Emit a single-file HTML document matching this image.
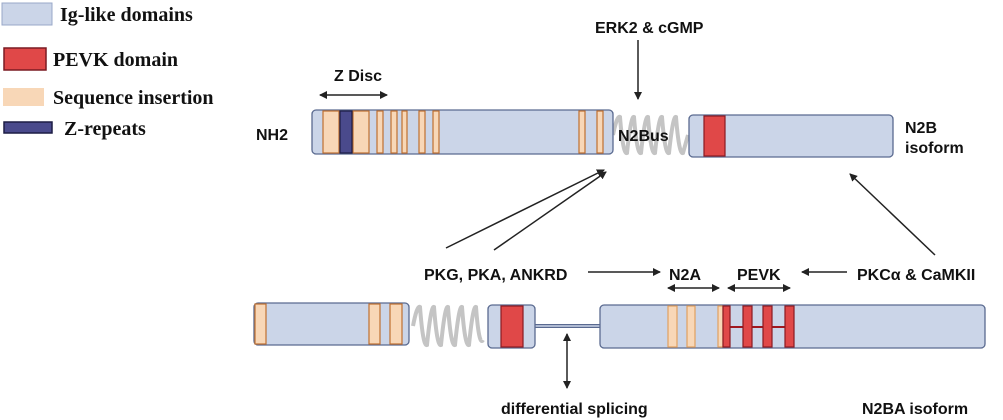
<!DOCTYPE html>
<html><head><meta charset="utf-8"><style>
html,body{margin:0;padding:0;background:#fff;width:1003px;height:420px;overflow:hidden}
svg{display:block}
.s{font-family:"Liberation Sans",sans-serif;font-weight:bold;font-size:16px;fill:#111}
.t{font-family:"Liberation Serif",serif;font-weight:bold;font-size:20px;fill:#111}
</style></head><body>
<svg width="1003" height="420" viewBox="0 0 1003 420" xmlns="http://www.w3.org/2000/svg">
<defs>
<marker id="a" markerWidth="8" markerHeight="8" refX="7" refY="4" orient="auto" markerUnits="userSpaceOnUse"><path d="M0,0 L8,4 L0,8 Z" fill="#222"/></marker>
<marker id="b" markerWidth="8" markerHeight="8" refX="1" refY="4" orient="auto" markerUnits="userSpaceOnUse"><path d="M8,0 L0,4 L8,8 Z" fill="#222"/></marker>
</defs>
<!-- legend -->
<rect x="2" y="3" width="50" height="22" fill="#cbd5e8" stroke="#9aa8c8" stroke-width="1"/>
<text class="t" x="60" y="21">Ig-like domains</text>
<rect x="4" y="48" width="42" height="22" fill="#e04848" stroke="#7a1a22" stroke-width="1.5"/>
<text class="t" x="53" y="66">PEVK domain</text>
<rect x="3" y="88" width="41" height="18" fill="#f8d7b7"/>
<text class="t" x="53" y="104">Sequence insertion</text>
<rect x="4" y="122" width="48" height="11" fill="#4a4a8c" stroke="#1c1c44" stroke-width="1.5"/>
<text class="t" x="64" y="135">Z-repeats</text>

<!-- top texts -->
<text class="s" x="595" y="33">ERK2 &amp; cGMP</text>
<line x1="638" y1="40" x2="638" y2="99" stroke="#222" stroke-width="1.5" marker-end="url(#a)"/>
<text class="s" x="334" y="81">Z Disc</text>
<line x1="320" y1="95" x2="387" y2="95" stroke="#222" stroke-width="1.5" marker-start="url(#b)" marker-end="url(#a)"/>
<text class="s" x="256" y="140">NH2</text>

<!-- top spring -->
<path d="M613,135 Q617,115 620,117 Q623,155 627,153 Q631,115 634,117 Q637,155 641,153 Q645,115 648,117 Q651,155 655,153 Q659,115 662,117 Q665,155 669,153 Q673,115 676,117 Q679,155 683,153 L688,135" fill="none" stroke="#c4c4c4" stroke-width="4"/>

<!-- top bar -->
<rect x="312" y="110" width="301" height="44" rx="4" fill="#cbd5e8" stroke="#5a6a90" stroke-width="1.3"/>
<g fill="#f8d7b7" stroke="#c07030" stroke-width="1.2">
<rect x="323" y="111" width="16" height="42"/>
<rect x="353" y="111" width="16" height="42"/>
<rect x="377" y="111" width="6" height="42"/>
<rect x="391" y="111" width="6" height="42"/>
<rect x="402" y="111" width="5" height="42"/>
<rect x="419" y="111" width="6" height="42"/>
<rect x="433" y="111" width="6" height="42"/>
<rect x="579" y="111" width="6" height="42"/>
<rect x="597" y="111" width="6" height="42"/>
</g>
<rect x="340" y="111" width="12" height="42" fill="#4a4a8c" stroke="#1c1c44" stroke-width="1.2"/>
<text class="s" x="618" y="141">N2Bus</text>

<rect x="689" y="115" width="204" height="42" rx="4" fill="#cbd5e8" stroke="#5a6a90" stroke-width="1.3"/>
<rect x="704" y="116" width="21" height="40" fill="#e04848" stroke="#8a1a22" stroke-width="1.2"/>
<text class="s" x="905" y="133">N2B</text>
<text class="s" x="905" y="153">isoform</text>

<!-- diagonal arrows -->
<line x1="446" y1="248" x2="604" y2="170" stroke="#222" stroke-width="1.5" marker-end="url(#a)"/>
<line x1="494" y1="250" x2="606" y2="172" stroke="#222" stroke-width="1.5" marker-end="url(#a)"/>
<line x1="935" y1="255" x2="850" y2="174" stroke="#222" stroke-width="1.5" marker-end="url(#a)"/>

<!-- middle labels -->
<text class="s" x="424" y="280">PKG, PKA, ANKRD</text>
<line x1="588" y1="272" x2="660" y2="272" stroke="#222" stroke-width="1.5" marker-end="url(#a)"/>
<text class="s" x="669" y="280">N2A</text>
<text class="s" x="737" y="280">PEVK</text>
<line x1="847" y1="272" x2="802" y2="272" stroke="#222" stroke-width="1.5" marker-end="url(#a)"/>
<text class="s" x="857" y="280">PKCα &amp; CaMKII</text>
<line x1="668" y1="288" x2="719" y2="288" stroke="#222" stroke-width="1.5" marker-start="url(#b)" marker-end="url(#a)"/>
<line x1="728" y1="288" x2="790" y2="288" stroke="#222" stroke-width="1.5" marker-start="url(#b)" marker-end="url(#a)"/>

<!-- bottom spring -->
<path d="M413,326 Q417,305 420,307 Q423,347 427,345 Q431,305 434,307 Q437,347 441,345 Q445,305 448,307 Q451,347 455,345 Q459,305 462,307 Q465,347 469,345 Q473,305 476,307 Q479,347 483,340" fill="none" stroke="#c4c4c4" stroke-width="4"/>

<!-- bottom bars -->
<rect x="254" y="303" width="155" height="42" rx="4" fill="#cbd5e8" stroke="#5a6a90" stroke-width="1.3"/>
<g fill="#f8d7b7" stroke="#c07030" stroke-width="1.2">
<rect x="255" y="304" width="11" height="40"/>
<rect x="369" y="304" width="11" height="40"/>
<rect x="390" y="304" width="12" height="40"/>
</g>
<line x1="535" y1="326" x2="601" y2="326" stroke="#5a6a90" stroke-width="4"/>
<line x1="535" y1="326" x2="601" y2="326" stroke="#cbd5e8" stroke-width="1.5"/>
<rect x="488" y="305" width="47" height="43" rx="4" fill="#cbd5e8" stroke="#5a6a90" stroke-width="1.3"/>
<rect x="501" y="306" width="22" height="41" fill="#e04848" stroke="#8a1a22" stroke-width="1.2"/>

<rect x="600" y="305" width="385" height="43" rx="4" fill="#cbd5e8" stroke="#5a6a90" stroke-width="1.3"/>
<g fill="#f8d7b7" stroke="#e0a060" stroke-width="1.2">
<rect x="668" y="306" width="9" height="41"/>
<rect x="687" y="306" width="8" height="41"/>
<rect x="718" y="306" width="5" height="41"/>
</g>
<line x1="723" y1="327" x2="787" y2="327" stroke="#a01820" stroke-width="2"/>
<g fill="#e04848" stroke="#8a1a22" stroke-width="1.2">
<rect x="723" y="306" width="7" height="41"/>
<rect x="743" y="306" width="9" height="41"/>
<rect x="763" y="306" width="9" height="41"/>
<rect x="785" y="306" width="9" height="41"/>
</g>

<line x1="567" y1="334" x2="567" y2="388" stroke="#222" stroke-width="1.5" marker-start="url(#b)" marker-end="url(#a)"/>
<text class="s" x="501" y="414">differential splicing</text>
<text class="s" x="862" y="414">N2BA isoform</text>
</svg>
</body></html>
